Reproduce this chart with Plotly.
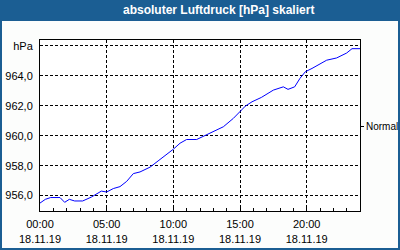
import pandas as pd
import plotly.graph_objects as go

# Data (hours since 18.11.19 00:00, pressure in hPa)
hours = [0, 0.4, 0.8, 1.5, 1.85, 2.2, 2.6, 3.2, 3.85, 4.2, 4.6, 5.0, 5.5, 6.0, 6.5,
         7.0, 7.5, 8.25, 9.0, 10.0, 10.5, 11.0, 11.75, 12.25, 13.0, 13.75, 14.5,
         15.0, 15.4, 15.9, 16.6, 17.5, 18.25, 18.6, 19.1, 19.5, 19.9, 20.4, 20.9,
         21.5, 22.25, 23.0, 23.4, 24.0]
pressure = [955.5, 955.75, 955.87, 955.87, 955.55, 955.75, 955.64, 955.64, 955.9,
            956.09, 956.3, 956.24, 956.47, 956.6, 956.95, 957.47, 957.58, 957.9,
            958.4, 959.1, 959.5, 959.75, 959.75, 959.97, 960.26, 960.6, 961.16,
            961.6, 961.98, 962.27, 962.56, 963.05, 963.27, 963.1, 963.27, 963.84,
            964.28, 964.5, 964.73, 965.05, 965.2, 965.53, 965.82, 965.82]
y_tickvals = [956, 958, 960, 962, 964, 966]
y_ticktext = ["956,0", "958,0", "960,0", "962,0", "964,0", "hPa"]
normal_value = [960.6]
normal_text = ["Normal"]
title = "absoluter Luftdruck [hPa] skaliert"

start = pd.Timestamp("2019-11-18 00:00")
times = [start + pd.Timedelta(hours=h) for h in hours]

W, H = 400, 250
ML, MR, MT, MB = 40, 40, 40, 39
PW, PH = W - ML - MR, H - MT - MB
BLUE = "#1b5e93"
FONT = "Liberation Sans"

fig = go.Figure()
fig.add_trace(go.Scatter(x=times, y=pressure, mode="lines",
                         line=dict(color="#0000ff", width=1),
                         showlegend=False, hoverinfo="skip"))
fig.add_trace(go.Scatter(x=[times[0]], y=[None], yaxis="y2", mode="lines",
                         showlegend=False, hoverinfo="skip"))

def px_x(p):
    return (p - ML) / PW

def px_y(p):
    return 1 - (p - MT) / PH

shapes = [
    # title bar
    dict(type="rect", xref="paper", yref="paper", x0=px_x(0), x1=px_x(W),
         y0=px_y(21), y1=px_y(0), fillcolor=BLUE, line=dict(width=0), layer="above"),
    # frame
    dict(type="rect", xref="paper", yref="paper", x0=px_x(1), x1=px_x(W - 1),
         y0=px_y(H - 1), y1=px_y(10), line=dict(color=BLUE, width=2),
         fillcolor="rgba(0,0,0,0)", layer="above"),
]

fig.update_layout(
    width=W, height=H,
    margin=dict(l=ML, r=MR, t=MT, b=MB, pad=0, autoexpand=False),
    paper_bgcolor="#fcfdfc", plot_bgcolor="#ffffff",
    font=dict(family=FONT, size=11, color="#000000"),
    shapes=shapes,
    annotations=[dict(text=f"<b>{title}</b>", xref="paper", yref="paper",
                      x=px_x(218), y=px_y(10.5), xanchor="center", yanchor="middle",
                      showarrow=False, font=dict(family=FONT, size=12, color="#ffffff"))],
    xaxis=dict(
        type="date", automargin=False,
        range=[start, start + pd.Timedelta(hours=24)],
        tick0=start, dtick=5 * 3600 * 1000,
        tickformat="%H:%M<br>%d.%m.%y",
        ticks="inside", ticklen=3, tickcolor="#000000",
        ticklabelstandoff=3,
        minor=dict(dtick=3600 * 1000, ticks="inside", ticklen=3, tickcolor="#000000",
                   showgrid=False),
        showgrid=True, gridcolor="#000000", gridwidth=1, griddash="3px,2px",
        showline=True, linecolor="#000000", linewidth=1, mirror=True,
        zeroline=False, fixedrange=True,
    ),
    yaxis=dict(
        range=[954.97, 966.4], automargin=False,
        tickvals=y_tickvals, ticktext=y_ticktext,
        ticks="", ticklabelstandoff=4,
        showgrid=True, gridcolor="#000000", gridwidth=1, griddash="3px,2px",
        showline=True, linecolor="#000000", linewidth=1, mirror=True,
        zeroline=False, fixedrange=True,
    ),
    yaxis2=dict(
        overlaying="y", side="right", range=[954.97, 966.4], automargin=False,
        tickvals=normal_value, ticktext=normal_text,
        ticks="outside", ticklen=3, tickcolor="#000000",
        ticklabelstandoff=0, tickfont=dict(family=FONT, size=10, color="#000000"),
        showgrid=False, zeroline=False, showline=False, fixedrange=True,
    ),
)

fig.write_html("out.html")
